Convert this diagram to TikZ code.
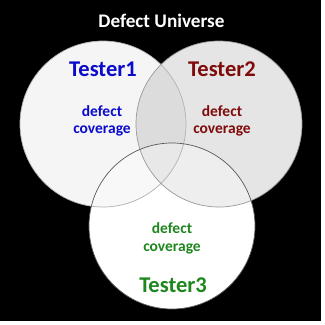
\documentclass[tikz,border=0pt]{standalone}
\usepackage{fontspec}
\setmainfont{Carlito}
\definecolor{tblue}{RGB}{10,10,205}
\definecolor{tred}{RGB}{128,10,10}
\definecolor{tgreen}{RGB}{30,135,30}
\begin{document}
\begin{tikzpicture}[x=1pt,y=-1pt,
  lbl/.style={inner sep=0pt,anchor=base,font=\bfseries},
  big/.style={lbl,font=\fontsize{22.5}{24}\selectfont\bfseries},
  small/.style={lbl,font=\fontsize{15.5}{17}\selectfont\bfseries},
  ring/.style={line width=0.7pt}]
\fill[white] (0,0) rectangle (325,325);
\fill[black] (0,0) rectangle (321,321);
\useasboundingbox (0,0) rectangle (325,325);
\coordinate (c1) at (103,124);
\coordinate (c2) at (219,124);
\coordinate (c3) at (172,226);
% white base
\fill[white] (c1) circle[radius=83];
\fill[white] (c2) circle[radius=83];
\fill[white] (c3) circle[radius=83];
% tints
\fill[black,opacity=0.04] (c1) circle[radius=83];
\fill[black,opacity=0.10] (c2) circle[radius=83];
\fill[white,opacity=0.35] (c3) circle[radius=83];
% outlines
\draw[ring,color=black!30] (c1) circle[radius=83];
\draw[ring,color=black!40] (c2) circle[radius=83];
\draw[ring,color=black!65] (c3) circle[radius=83];
% texts
\node[lbl,text=white,font=\fontsize{19.2}{21}\selectfont\bfseries] (title) at (161.5,27) {Defect Universe};
\node[big,text=tblue] (t1) at (103,76) {Tester1};
\node[big,text=tred] (t2) at (222,76) {Tester2};
\node[big,text=tgreen] (t3) at (173,292) {Tester3};
\node[small,text=tblue] (d1) at (102,116) {defect};
\node[small,text=tblue] (v1) at (102,133.5) {coverage};
\node[small,text=tred] (d2) at (222,116) {defect};
\node[small,text=tred] (v2) at (222,133.5) {coverage};
\node[small,text=tgreen] (d3) at (172,233) {defect};
\node[small,text=tgreen] (v3) at (172,251.5) {coverage};
\end{tikzpicture}
\end{document}
